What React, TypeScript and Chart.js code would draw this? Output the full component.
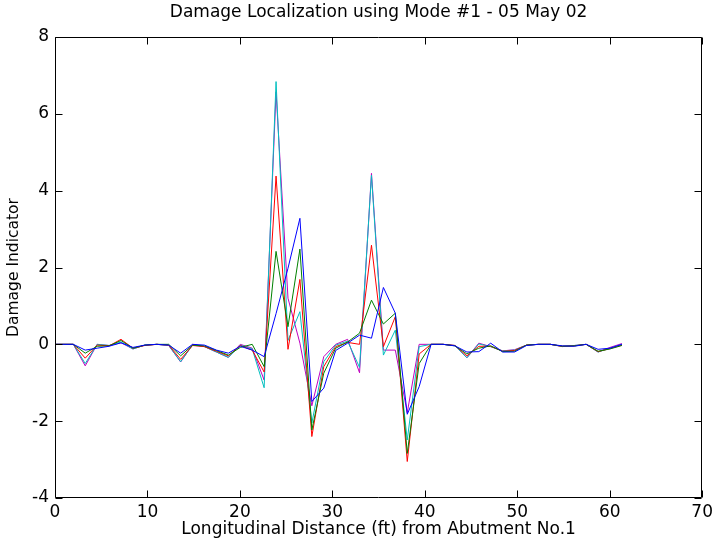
import React, { useEffect, useRef } from 'react';
import { Chart, registerables } from 'chart.js';

Chart.register(...registerables);

const titleText = 'Damage Localization using Mode #1 - 05 May 02';
const xTitleText = 'Longitudinal Distance (ft) from Abutment No.1';
const yTitleText = 'Damage Indicator';

const xTickValues = [0, 10, 20, 30, 40, 50, 60, 70];
const yTickValues = [-4, -2, 0, 2, 4, 6, 8];

const distanceFt = [
  0, 1.98, 3.27, 4.56, 5.85, 7.14, 8.43, 9.72, 11.01, 12.3,
  13.59, 14.88, 16.17, 17.46, 18.75, 20.04, 21.33, 22.62, 23.91, 25.2,
  26.49, 27.78, 29.07, 30.36, 31.65, 32.94, 34.23, 35.52, 36.81, 38.1,
  39.39, 40.68, 41.97, 43.26, 44.55, 45.84, 47.13, 48.42, 49.71, 51.0,
  52.29, 53.58, 54.87, 56.16, 57.45, 58.74, 60.03, 61.32,
];

const blueValues = [
  0, 0, -0.15, -0.1, -0.05, 0.04, -0.08, -0.02, 0, -0.02,
  -0.23, 0, -0.02, -0.15, -0.23, -0.05, -0.15, -0.32, 0.8, 1.98,
  3.28, -1.49, -1.14, -0.16, 0.03, 0.24, 0.16, 1.48, 0.81, -1.82,
  -1.1, 0, 0, -0.04, -0.2, -0.19, 0.03, -0.2, -0.2, -0.03,
  0, 0, -0.04, -0.05, 0, -0.13, -0.1, 0,
];

const greenValues = [
  0, 0, -0.23, -0.05, -0.04, 0.1, -0.1, -0.02, 0, 0,
  -0.3, -0.02, -0.04, -0.16, -0.28, -0.08, 0, -0.58, 2.42, 0.46,
  2.48, -2.23, -0.75, -0.1, 0.06, 0.29, 1.15, 0.53, 0.81, -2.84,
  -0.5, 0, 0, -0.04, -0.25, -0.1, -0.04, -0.19, -0.18, -0.02,
  0, 0, -0.05, -0.04, 0, -0.18, -0.12, -0.03,
];

const redValues = [
  0, 0, -0.36, -0.02, -0.04, 0.13, -0.1, -0.03, 0, -0.02,
  -0.39, -0.03, -0.06, -0.18, -0.3, -0.03, -0.15, -0.72, 4.38, -0.13,
  1.69, -2.4, -0.58, -0.06, 0.05, 0, 2.58, -0.06, 0.72, -3.05,
  -0.25, 0, 0, -0.03, -0.3, -0.05, -0.05, -0.18, -0.16, -0.02,
  0, 0, -0.05, -0.04, 0, -0.19, -0.11, -0.02,
];

const cyanValues = [
  0, 0, -0.5, 0, -0.03, 0.06, -0.12, -0.02, 0, -0.03,
  -0.45, -0.02, -0.06, -0.2, -0.34, -0.02, -0.12, -1.13, 6.84, 0.1,
  0.85, -2.05, -0.45, -0.02, 0.08, -0.6, 4.4, -0.28, 0.37, -2.49,
  -0.06, 0, 0, -0.03, -0.35, 0.01, -0.06, -0.17, -0.15, -0.02,
  0, 0, -0.05, -0.03, 0, -0.2, -0.1, 0,
];

const magentaValues = [
  0, 0, -0.56, 0, -0.03, 0.04, -0.12, -0.02, 0, -0.03,
  -0.46, 0, -0.06, -0.2, -0.34, 0, -0.1, -0.93, 6.57, 1.2,
  0.03, -1.6, -0.32, 0, 0.13, -0.74, 4.45, -0.15, -0.15, -1.78,
  0, 0, 0, -0.03, -0.35, 0.03, -0.06, -0.17, -0.14, -0.02,
  0, 0, -0.06, -0.03, 0, -0.2, -0.08, 0.02,
];

const seriesList = [
  { name: 'b', color: '#0000ff', values: blueValues },
  { name: 'g', color: '#008000', values: greenValues },
  { name: 'r', color: '#ff0000', values: redValues },
  { name: 'c', color: '#00bfbf', values: cyanValues },
  { name: 'm', color: '#bf00bf', values: magentaValues },
];

const FONT_FAMILY = '"DejaVu Sans", "Liberation Sans", Arial, sans-serif';

const framePlugin = {
  id: 'matlabFrame',
  afterDraw(chart: any) {
    const { ctx, chartArea: a, scales } = chart;
    const xs = scales.x;
    const ys = scales.y;
    const L = Math.round(a.left) + 0.5;
    const R = Math.round(a.right) - 0.5;
    const T = Math.round(a.top) + 0.5;
    const B = Math.round(a.bottom) - 0.5;
    const len = 7;
    ctx.save();
    ctx.strokeStyle = '#000';
    ctx.lineWidth = 1;
    ctx.beginPath();
    ctx.rect(L, T, R - L, B - T);
    xTickValues.forEach((v) => {
      const px = Math.round(xs.getPixelForValue(v)) + 0.5;
      ctx.moveTo(px, B);
      ctx.lineTo(px, B - len);
      ctx.moveTo(px, T);
      ctx.lineTo(px, T + len);
    });
    yTickValues.forEach((v) => {
      const py = Math.round(ys.getPixelForValue(v)) + 0.5;
      ctx.moveTo(L, py);
      ctx.lineTo(L + len, py);
      ctx.moveTo(R, py);
      ctx.lineTo(R - len, py);
    });
    ctx.stroke();
    ctx.restore();
  },
};

export default function App() {
  const canvasRef = useRef<HTMLCanvasElement | null>(null);

  useEffect(() => {
    document.body.style.margin = '0';
    document.body.style.background = '#ffffff';
    const canvas = canvasRef.current;
    if (!canvas) return;
    const font = { family: FONT_FAMILY, size: 17, weight: 'normal' as const };
    const yTitleFont = { family: FONT_FAMILY, size: 15.5, weight: 'normal' as const };
    const chart = new Chart(canvas, {
      type: 'line',
      data: {
        datasets: seriesList.map((s) => ({
          label: s.name,
          data: distanceFt.map((x, i) => ({ x, y: s.values[i] })),
          borderColor: s.color,
          backgroundColor: s.color,
          borderWidth: 1,
          pointRadius: 0,
          tension: 0,
          fill: false,
        })),
      },
      options: {
        responsive: false,
        animation: false,
        events: [],
        layout: { padding: { left: 0, right: 14, top: 0, bottom: 0 } },
        plugins: {
          legend: { display: false },
          tooltip: { enabled: false },
          title: {
            display: true,
            fullSize: false,
            text: titleText,
            color: '#000',
            font,
            padding: { top: 2.3, bottom: 14.3 },
          },
        },
        scales: {
          x: {
            type: 'linear',
            min: 0,
            max: 70,
            afterBuildTicks: (scale: any) => {
              scale.ticks = xTickValues.map((v) => ({ value: v }));
            },
            ticks: { color: '#000', font, padding: 4, maxRotation: 0, autoSkip: false },
            grid: { display: false, drawTicks: false },
            border: { display: false },
            title: {
              display: true,
              text: xTitleText,
              color: '#000',
              font,
              padding: { top: 0, bottom: 8.5 },
            },
            afterFit: (scale: any) => {
              scale.height = 50;
            },
          },
          y: {
            type: 'linear',
            min: -4,
            max: 8,
            afterBuildTicks: (scale: any) => {
              scale.ticks = yTickValues.map((v) => ({ value: v }));
            },
            ticks: { color: '#000', font, padding: 6, autoSkip: false },
            grid: { display: false, drawTicks: false },
            border: { display: false },
            title: {
              display: true,
              text: yTitleText,
              color: '#000',
              font: yTitleFont,
              padding: { top: 5, bottom: 0 },
            },
            afterFit: (scale: any) => {
              scale.width = 55;
            },
          },
        },
      },
      plugins: [framePlugin],
    });
    return () => chart.destroy();
  }, []);

  return (
    <canvas
      ref={canvasRef}
      width={717}
      height={548}
      style={{ display: 'block', width: '717px', height: '548px' }}
    />
  );
}
